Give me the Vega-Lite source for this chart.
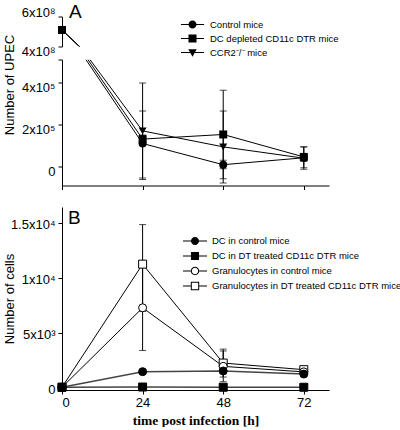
{
  "$schema": "https://vega.github.io/schema/vega-lite/v6.json",
  "padding": {"left": 2, "top": 2.5, "right": 0, "bottom": 0},
  "config": {
    "view": {"stroke": null},
    "font": "Liberation Sans",
    "axis": {"domainColor": "black", "tickColor": "black", "labelColor": "black", "titleColor": "black", "labelFont": "Liberation Sans", "titleFont": "Liberation Sans", "labelFontSize": 13, "titleFontSize": 13, "titleFontWeight": "normal", "tickSize": 4, "grid": false, "labelPadding": 3}
  },
  "datasets": {
    "a": [
      {"series": "Control mice", "time": 0, "value": 510000000, "lo": null, "hi": null, "kind": "obs"},
      {"series": "Control mice", "time": 7.1, "value": 510000, "lo": null, "hi": null, "kind": "break"},
      {"series": "Control mice", "time": 24, "value": 110000, "lo": -62000, "hi": 265000, "kind": "obs"},
      {"series": "Control mice", "time": 48, "value": 9000, "lo": -10000, "hi": 30000, "kind": "obs"},
      {"series": "Control mice", "time": 72, "value": 42000, "lo": 24000, "hi": 60000, "kind": "obs"},
      {"series": "CCR2⁻/⁻ mice", "time": 0, "value": 510000000, "lo": null, "hi": null, "kind": "obs"},
      {"series": "CCR2⁻/⁻ mice", "time": 8.3, "value": 510000, "lo": null, "hi": null, "kind": "break"},
      {"series": "CCR2⁻/⁻ mice", "time": 24, "value": 170000, "lo": -54000, "hi": 398000, "kind": "obs"},
      {"series": "CCR2⁻/⁻ mice", "time": 48, "value": 94000, "lo": -78000, "hi": 265000, "kind": "obs"},
      {"series": "CCR2⁻/⁻ mice", "time": 72, "value": 40000, "lo": -13000, "hi": 93000, "kind": "obs"},
      {"series": "DC depleted CD11c DTR mice", "time": 0, "value": 510000000, "lo": null, "hi": null, "kind": "obs"},
      {"series": "DC depleted CD11c DTR mice", "time": 7.7, "value": 510000, "lo": null, "hi": null, "kind": "break"},
      {"series": "DC depleted CD11c DTR mice", "time": 24, "value": 131000, "lo": 110000, "hi": 150000, "kind": "obs"},
      {"series": "DC depleted CD11c DTR mice", "time": 48, "value": 153000, "lo": -58000, "hi": 363000, "kind": "obs"},
      {"series": "DC depleted CD11c DTR mice", "time": 72, "value": 46000, "lo": -5000, "hi": 94000, "kind": "obs"}
    ],
    "b": [
      {"series": "Granulocytes in DT treated CD11c DTR mice", "time": 0, "value": 100, "lo": null, "hi": null},
      {"series": "Granulocytes in DT treated CD11c DTR mice", "time": 24, "value": 11300, "lo": 7000, "hi": 14900},
      {"series": "Granulocytes in DT treated CD11c DTR mice", "time": 48, "value": 2300, "lo": 1030, "hi": 3570},
      {"series": "Granulocytes in DT treated CD11c DTR mice", "time": 72, "value": 1700, "lo": 1550, "hi": 1850},
      {"series": "Granulocytes in control mice", "time": 0, "value": 100, "lo": null, "hi": null},
      {"series": "Granulocytes in control mice", "time": 24, "value": 7330, "lo": 3450, "hi": 11200},
      {"series": "Granulocytes in control mice", "time": 48, "value": 2000, "lo": 600, "hi": 3400},
      {"series": "Granulocytes in control mice", "time": 72, "value": 1500, "lo": 1300, "hi": 1700},
      {"series": "DC in DT treated CD11c DTR mice", "time": 0, "value": 100, "lo": null, "hi": null},
      {"series": "DC in DT treated CD11c DTR mice", "time": 24, "value": 120, "lo": null, "hi": null},
      {"series": "DC in DT treated CD11c DTR mice", "time": 48, "value": 100, "lo": null, "hi": null},
      {"series": "DC in DT treated CD11c DTR mice", "time": 72, "value": 100, "lo": null, "hi": null},
      {"series": "DC in control mice", "time": 0, "value": 100, "lo": null, "hi": null},
      {"series": "DC in control mice", "time": 24, "value": 1520, "lo": 1350, "hi": 1700},
      {"series": "DC in control mice", "time": 48, "value": 1580, "lo": 1400, "hi": 1760},
      {"series": "DC in control mice", "time": 72, "value": 1300, "lo": 1150, "hi": 1450}
    ]
  },
  "spacing": 16.5,
  "resolve": {"scale": {"x": "independent", "y": "independent", "shape": "independent", "fill": "independent", "color": "independent"}, "legend": {"shape": "independent", "fill": "independent", "color": "independent"}},
  "vconcat": [
    {
      "bounds": "flush",
      "spacing": 13,
      "resolve": {"scale": {"x": "independent", "y": "independent", "shape": "independent", "fill": "independent", "color": "independent"}, "legend": {"shape": "independent", "fill": "independent", "color": "independent"}},
      "vconcat": [
        {
          "width": 267,
          "height": 30,
          "data": {"name": "a"},
          "transform": [{"filter": "datum.kind === 'obs'"}],
          "resolve": {"scale": {"shape": "independent"}, "legend": {"shape": "independent"}},
          "layer": [
            {
              "mark": {"type": "line", "clip": true, "color": "black", "strokeWidth": 1},
              "encoding": {
                "x": {"field": "time", "type": "quantitative", "scale": {"domain": [0, 79.5], "nice": false, "zero": false}, "axis": null},
                "y": {"field": "value", "type": "quantitative", "scale": {"domain": [400000000, 600000000], "nice": false, "zero": false}, "axis": {"values": [400000000, 600000000], "labelExpr": "datum.value > 500000000 ? '6x10⁸' : '4x10⁸'", "title": null, "labelOffset": {"condition": {"test": "datum.value > 500000000", "value": -4}, "value": 5}}},
                "detail": {"field": "series"}
              }
            },
            {
              "transform": [{"filter": "datum.time === 0"}],
              "mark": {"type": "point", "filled": true, "opacity": 1, "color": "black", "size": 64},
              "encoding": {
                "x": {"field": "time", "type": "quantitative"},
                "y": {"field": "value", "type": "quantitative"},
                "shape": {
                  "field": "series", "type": "nominal",
                  "scale": {"domain": ["Control mice", "DC depleted CD11c DTR mice", "CCR2⁻/⁻ mice"], "range": ["circle", "square", "triangle-down"]},
                  "legend": null
                }
              }
            },
            {
              "transform": [{"filter": "datum.time < 0"}],
              "mark": {"type": "point", "filled": true, "opacity": 1, "color": "black", "size": 144},
              "encoding": {
                "x": {"field": "time", "type": "quantitative"},
                "y": {"field": "value", "type": "quantitative"},
                "shape": {
                  "field": "series", "type": "nominal",
                  "scale": {"domain": ["Control mice", "DC depleted CD11c DTR mice", "CCR2⁻/⁻ mice"], "range": [
                    "M-1.92,-0.083H-0.5V0.083H-1.92ZM0.5,-0.083H1.92V0.083H0.5ZM0.67,0A0.67,0.67,0,1,1,-0.67,0A0.67,0.67,0,1,1,0.67,0Z",
                    "M-1.92,-0.083H-0.5V0.083H-1.92ZM0.5,-0.083H1.92V0.083H0.5ZM-0.67,-0.67H0.67V0.67H-0.67Z",
                    "M-1.92,-0.083H-0.4V0.083H-1.92ZM0.4,-0.083H1.92V0.083H0.4ZM-0.7,-0.55H0.7L0,0.72Z"]},
                  "legend": {"orient": "none", "legendX": 124.5, "legendY": 2, "title": null, "padding": 0, "labelFontSize": 9.5, "labelFont": "Liberation Sans", "labelColor": "black", "labelOffset": 11.5, "labelLimit": 300, "rowPadding": 3, "symbolSize": 144, "symbolStrokeWidth": 0}
                }
              }
            },
            {
              "data": {"values": [{}]},
              "mark": {"type": "text", "text": "A", "fontSize": 19, "font": "Liberation Sans", "color": "black", "align": "left", "baseline": "alphabetic"},
              "encoding": {
                "x": {"datum": 2.1, "type": "quantitative"},
                "y": {"datum": 590000000, "type": "quantitative"}
              }
            }
          ]
        },
        {
          "width": 267,
          "height": 126,
          "data": {"name": "a"},
          "layer": [
            {
              "transform": [{"filter": "datum.time > 0"}],
              "mark": {"type": "line", "clip": true, "color": "black", "strokeWidth": 1},
              "encoding": {
                "x": {"field": "time", "type": "quantitative", "scale": {"domain": [0, 79.5], "nice": false, "zero": false}, "axis": {"values": [0, 24, 48, 72], "labels": false, "title": null}},
                "y": {"field": "value", "type": "quantitative", "scale": {"domain": [-90000, 510000], "nice": false, "zero": false}, "axis": {"values": [0, 200000, 400000, 510000], "labelExpr": "datum.value === 0 ? '0' : datum.value === 200000 ? '2x10⁵' : datum.value === 400000 ? '4x10⁵' : ''", "title": "Number of UPEC", "titleX": -46, "titleY": 25, "labelOffset": 5}},
                "detail": {"field": "series"}
              }
            },
            {
              "transform": [{"filter": "datum.kind === 'obs' && isValid(datum.lo)"}],
              "mark": {"type": "errorbar", "ticks": true, "size": 7, "thickness": 1, "color": "black", "clip": true},
              "encoding": {
                "x": {"field": "time", "type": "quantitative"},
                "y": {"field": "lo", "type": "quantitative", "title": "Number of UPEC"},
                "y2": {"field": "hi"}
              }
            },
            {
              "transform": [{"filter": "datum.kind === 'obs' && datum.time > 0"}],
              "mark": {"type": "point", "filled": true, "opacity": 1, "color": "black", "size": 64},
              "encoding": {
                "x": {"field": "time", "type": "quantitative"},
                "y": {"field": "value", "type": "quantitative", "title": "Number of UPEC"},
                "shape": {
                  "field": "series", "type": "nominal",
                  "scale": {"domain": ["Control mice", "DC depleted CD11c DTR mice", "CCR2⁻/⁻ mice"], "range": ["circle", "square", "triangle-down"]},
                  "legend": null
                }
              }
            }
          ]
        }
      ]
    },
    {
      "width": 267,
      "height": 183,
      "data": {"name": "b"},
      "resolve": {"scale": {"shape": "independent"}, "legend": {"shape": "independent"}},
      "layer": [
        {
          "transform": [{"filter": "indexof(datum.series, 'Granulocytes') === 0"}],
          "mark": {"type": "line", "color": "black", "strokeWidth": 1},
          "encoding": {
            "x": {"field": "time", "type": "quantitative", "scale": {"domain": [0, 79.5], "nice": false, "zero": false}, "axis": {"values": [0, 24, 48, 72], "title": "time post infection [h]", "titleFont": "Liberation Serif", "titleFontWeight": "bold", "titleFontSize": 13.5, "titlePadding": 4, "labelPadding": 2}},
            "y": {"field": "value", "type": "quantitative", "scale": {"domain": [-150, 16500], "nice": false, "zero": false}, "axis": {"values": [0, 5000, 10000, 15000], "labelExpr": "datum.value === 0 ? '0' : datum.value === 5000 ? '5x10³' : datum.value === 10000 ? '1x10⁴' : '1.5x10⁴'", "title": "Number of cells", "titleX": -46, "labelOffset": 1}},
            "detail": {"field": "series"}
          }
        },
        {
          "transform": [{"filter": "indexof(datum.series, 'DC') === 0"}],
          "mark": {"type": "line", "color": "#444444", "strokeWidth": 1.5},
          "encoding": {
            "x": {"field": "time", "type": "quantitative"},
            "y": {"field": "value", "type": "quantitative", "title": "Number of cells"},
            "detail": {"field": "series"}
          }
        },
        {
          "transform": [{"filter": "isValid(datum.lo)"}],
          "mark": {"type": "errorbar", "ticks": true, "size": 7, "thickness": 1, "color": "black"},
          "encoding": {
            "x": {"field": "time", "type": "quantitative"},
            "y": {"field": "lo", "type": "quantitative", "title": "Number of cells"},
            "y2": {"field": "hi"}
          }
        },
        {
          "mark": {"type": "point", "filled": true, "opacity": 1, "stroke": "black", "strokeWidth": 1, "size": 64},
          "encoding": {
            "x": {"field": "time", "type": "quantitative"},
            "y": {"field": "value", "type": "quantitative", "title": "Number of cells"},
            "fill": {"field": "series", "type": "nominal", "scale": {"domain": ["DC in control mice", "DC in DT treated CD11c DTR mice", "Granulocytes in control mice", "Granulocytes in DT treated CD11c DTR mice"], "range": ["black", "black", "white", "white"]}, "legend": null},
            "shape": {
              "field": "series", "type": "nominal",
              "scale": {"domain": ["DC in control mice", "DC in DT treated CD11c DTR mice", "Granulocytes in control mice", "Granulocytes in DT treated CD11c DTR mice"], "range": ["circle", "square", "circle", "square"]},
              "legend": null
            }
          }
        },
        {
          "transform": [{"filter": "datum.time < 0"}],
          "mark": {"type": "point", "filled": true, "opacity": 1, "color": "black", "size": 144},
          "encoding": {
            "x": {"field": "time", "type": "quantitative"},
            "y": {"field": "value", "type": "quantitative"},
            "shape": {
              "field": "series", "type": "nominal",
              "scale": {"domain": ["DC in control mice", "DC in DT treated CD11c DTR mice", "Granulocytes in control mice", "Granulocytes in DT treated CD11c DTR mice"], "range": [
                "M-2,-0.083H-0.5V0.083H-2ZM0.5,-0.083H2V0.083H0.5ZM0.67,0A0.67,0.67,0,1,1,-0.67,0A0.67,0.67,0,1,1,0.67,0Z",
                "M-2,-0.083H-0.5V0.083H-2ZM0.5,-0.083H2V0.083H0.5ZM-0.67,-0.67H0.67V0.67H-0.67Z",
                "M-2,-0.083H-0.6V0.083H-2ZM0.6,-0.083H2V0.083H0.6ZM0.7,0A0.7,0.7,0,1,1,-0.7,0A0.7,0.7,0,1,1,0.7,0ZM0.53,0A0.53,0.53,0,1,0,-0.53,0A0.53,0.53,0,1,0,0.53,0Z",
                "M-2,-0.083H-0.6V0.083H-2ZM0.6,-0.083H2V0.083H0.6ZM-0.7,-0.7H0.7V0.7H-0.7ZM-0.53,-0.53V0.53H0.53V-0.53Z"]},
              "legend": {"orient": "none", "legendX": 127, "legendY": 28, "title": null, "padding": 0, "labelFontSize": 9.5, "labelFont": "Liberation Sans", "labelColor": "black", "labelOffset": 11, "labelLimit": 300, "rowPadding": 4, "symbolSize": 144, "symbolStrokeWidth": 0}
            }
          }
        },
        {
          "data": {"values": [{}]},
          "mark": {"type": "text", "text": "B", "fontSize": 19, "font": "Liberation Sans", "color": "black", "align": "left", "baseline": "alphabetic"},
          "encoding": {
            "x": {"datum": 1.8, "type": "quantitative"},
            "y": {"datum": 14950, "type": "quantitative"}
          }
        }
      ]
    }
  ]
}
